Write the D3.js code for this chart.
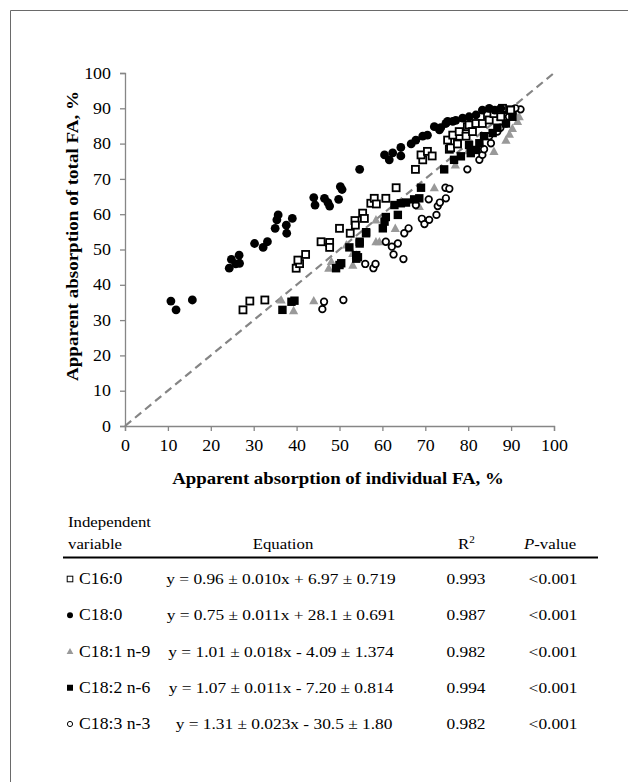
<!DOCTYPE html>
<html><head><meta charset="utf-8">
<script src="https://cdn.jsdelivr.net/npm/d3@7"></script>
<style>body{margin:0;background:#fff}svg{display:block}svg text{font-family:"Liberation Serif","Tinos","DejaVu Serif",serif}</style>
</head><body><svg id="c" width="628" height="782"></svg>
<script>
const xTicks=[0,10,20,30,40,50,60,70,80,90,100];
const yTicks=[0,10,20,30,40,50,60,70,80,90,100];
const xTitle="Apparent absorption of individual FA, %";
const yTitle="Apparent absorption of total FA, %";
const seriesNames=["C16:0","C18:0","C18:1 n-9","C18:2 n-6","C18:3 n-3"];
const equations=["y = 0.96 \u00b1 0.010x + 6.97 \u00b1 0.719","y = 0.75 \u00b1 0.011x + 28.1 \u00b1 0.691","y = 1.01 \u00b1 0.018x - 4.09 \u00b1 1.374","y = 1.07 \u00b1 0.011x - 7.20 \u00b1 0.814","y = 1.31 \u00b1 0.023x - 30.5 \u00b1 1.80"];
const r2Values=["0.993","0.987","0.982","0.994","0.982"];
const pValues=["<0.001","<0.001","<0.001","<0.001","<0.001"];
const c160=[[27.5,32.9],[29.1,35.4],[32.6,35.7],[39.9,44.7],[40.7,46.0],[40.3,47.0],[42.1,48.6],[45.7,52.2],[47.7,52.0],[47.7,50.6],[50.0,56.0],[52.5,54.6],[53.6,58.2],[53.7,56.9],[55.4,60.3],[55.8,58.8],[57.3,63.1],[58.1,64.5],[58.6,62.9],[60.8,64.5],[63.2,67.5],[67.7,72.7],[69.4,75.4],[69.0,76.8],[70.5,77.8],[71.6,76.5],[75.2,81.0],[75.6,78.4],[75.9,78.8],[76.4,82.4],[77.5,80.1],[77.9,83.4],[79.5,82.1],[79.8,84.8],[77.5,79.9],[80.2,85.3],[81.0,83.4],[81.8,85.7],[83.3,85.7],[84.5,88.1],[84.9,86.7],[86.0,88.5],[87.6,87.6],[89.9,89.5],[88.0,90.0]];
const c180=[[10.7,35.4],[11.9,32.9],[15.7,35.7],[24.3,44.7],[24.8,47.2],[25.8,45.9],[26.6,48.4],[26.7,46.1],[30.2,51.7],[32.2,50.6],[33.2,52.2],[35.0,56.0],[35.4,58.4],[35.7,59.8],[37.6,56.9],[37.7,54.6],[39.0,58.8],[44.0,64.7],[44.3,62.6],[46.5,64.5],[47.3,63.3],[47.7,62.3],[49.8,64.2],[50.2,67.8],[50.6,67.0],[54.7,72.7],[60.5,76.8],[61.6,75.4],[62.4,77.4],[64.3,78.9],[64.3,76.5],[66.7,79.9],[67.8,81.0],[69.4,82.1],[70.5,82.4],[72.1,84.8],[73.6,84.5],[73.3,83.9],[74.8,85.7],[75.2,86.3],[76.4,86.3],[77.1,86.6],[78.7,87.2],[80.2,87.6],[81.8,88.1],[83.3,89.5],[84.9,90.0],[86.2,89.5],[87.6,90.0]];
const c181=[[36.4,35.7],[39.3,32.7],[44.0,35.5],[47.5,44.7],[48.1,46.6],[51.6,51.3],[53.1,45.6],[53.1,48.9],[53.9,48.4],[58.5,52.2],[58.5,58.4],[59.3,52.2],[63.0,56.0],[68.6,62.2],[72.1,67.5],[77.0,74.0],[80.0,78.0],[83.0,80.0],[86.0,77.8],[88.8,81.0],[89.6,82.7],[90.3,84.3],[91.5,86.3],[91.9,87.6],[90.8,88.6]];
const c182=[[36.7,32.9],[38.8,35.2],[39.5,35.5],[49.2,44.7],[50.0,45.6],[50.4,46.1],[52.3,50.6],[53.9,48.4],[53.9,47.4],[54.3,47.8],[54.7,51.7],[54.7,52.2],[56.2,54.6],[56.2,54.9],[60.1,56.0],[60.5,57.9],[60.8,59.2],[62.8,62.6],[63.6,59.8],[64.3,63.1],[65.5,63.3],[67.4,64.2],[68.6,64.5],[69.0,67.5],[74.4,72.7],[76.7,75.4],[78.3,76.4],[80.6,77.3],[81.8,78.2],[80.2,79.6],[82.6,80.1],[83.7,82.1],[85.7,83.0],[86.8,84.5],[88.8,85.7],[88.4,89.5],[90.3,87.6],[89.5,89.6]];
const c183=[[46.0,33.1],[46.4,35.2],[50.9,35.7],[56.0,45.9],[57.9,44.7],[58.4,45.9],[60.8,52.2],[62.2,50.8],[63.6,51.7],[62.6,48.6],[64.9,47.3],[65.1,54.6],[66.1,56.0],[67.8,62.6],[69.2,58.7],[69.8,57.2],[70.9,58.4],[70.8,64.2],[72.6,59.8],[72.9,62.3],[73.4,63.3],[74.8,64.5],[74.7,67.5],[75.6,67.2],[79.8,72.7],[82.6,75.4],[83.3,76.8],[83.7,78.4],[85.3,80.1],[84.9,82.1],[86.8,83.4],[87.5,84.5],[88.8,85.7],[89.5,87.6],[90.3,88.6],[92.2,89.7],[91.0,90.0]];

const SX=1.12;
const FF='"Liberation Serif","Tinos","DejaVu Serif",serif';
const svg=d3.select("#c");
svg.append("path").attr("d","M10.5,782V10.5H628").attr("fill","none").attr("stroke","#6a6a6a").attr("stroke-width",1);
const x=d3.scaleLinear().domain([0,100]).range([125,554]);
const y=d3.scaleLinear().domain([0,100]).range([426,73]);
const axisCol="#868686";
const gx=svg.append("g").attr("transform","translate(0,426)").call(d3.axisBottom(x).tickValues(xTicks).tickSize(5).tickPadding(9).tickFormat(d3.format("d")));
const gy=svg.append("g").attr("transform","translate(125,0)").call(d3.axisLeft(y).tickValues(yTicks).tickSize(5).tickPadding(7).tickFormat(d3.format("d")));
[gx,gy].forEach(g=>{g.attr("font-family",FF);g.select(".domain").attr("stroke",axisCol).attr("stroke-width",1.3);g.selectAll(".tick line").attr("stroke",axisCol).attr("stroke-width",1.3);g.selectAll("text").attr("font-size",16).attr("fill","#000").attr("transform",`scale(${SX},1)`);});
gy.selectAll(".tick text").attr("x",-14/SX);
svg.append("line").attr("x1",x(0)).attr("y1",y(0)).attr("x2",x(100)).attr("y2",y(100)).attr("stroke","#858585").attr("stroke-width",2.2).attr("stroke-dasharray","8,5");

function drawSeries(data,type){
  const g=svg.append("g");
  data.forEach(d=>{
    const px=x(d[0]),py=y(d[1]);
    if(type==="osq") g.append("rect").attr("x",px-3.5).attr("y",py-3.5).attr("width",7).attr("height",7).attr("fill","#fff").attr("stroke","#000").attr("stroke-width",1.8);
    else if(type==="fsq") g.append("rect").attr("x",px-4.2).attr("y",py-4.2).attr("width",8.4).attr("height",8.4).attr("fill","#000");
    else if(type==="fci") g.append("circle").attr("cx",px).attr("cy",py).attr("r",4.4).attr("fill","#000");
    else if(type==="oci") g.append("circle").attr("cx",px).attr("cy",py).attr("r",3.3).attr("fill","#fff").attr("stroke","#000").attr("stroke-width",1.7);
    else if(type==="tri") g.append("path").attr("d",`M${px},${py-4.8}L${px+4.6},${py+3.6}L${px-4.6},${py+3.6}Z`).attr("fill","#999");
  });
}
drawSeries(c181,"tri");
drawSeries(c183,"oci");
drawSeries(c182,"fsq");
drawSeries(c160,"osq");
drawSeries(c180,"fci");

function txt(px,py,s,o){
  o=o||{};
  const t=svg.append("text").attr("transform",`translate(${px},${py})${o.rot?" rotate(-90)":""} scale(${SX},1)`)
    .attr("font-size",o.fs||15).attr("font-family",FF).attr("text-anchor",o.anchor||"start");
  if(o.bold) t.attr("font-weight","bold");
  if(s!==null) t.text(s);
  return t;
}
txt(338,484,xTitle,{fs:16.8,bold:true,anchor:"middle"});
txt(78,236,yTitle,{fs:17,bold:true,anchor:"middle",rot:true});

const tfs=15;
txt(68,527,"Independent",{fs:tfs});
txt(68,549,"variable",{fs:tfs});
txt(283,549,"Equation",{fs:tfs,anchor:"middle"});
const rt=txt(458,549,null,{fs:tfs});
rt.append("tspan").text("R");
rt.append("tspan").attr("dy",-6).attr("font-size",10).text("2");
const pt=txt(524,549,null,{fs:tfs});
pt.append("tspan").attr("font-style","italic").text("P");
pt.append("tspan").text("-value");
svg.append("line").attr("x1",63).attr("x2",598).attr("y1",557.5).attr("y2",557.5).attr("stroke","#000").attr("stroke-width",2);
const rowY=d3.scaleLinear().domain([0,4]).range([584,729]);
const mtypes=["osq","fci","tri","fsq","oci"];
const rfs=15.8;
seriesNames.forEach((n,i)=>{
  const yy=rowY(i), my=yy-5, mx=70;
  const t=mtypes[i];
  if(t==="osq") svg.append("rect").attr("x",mx-2.8).attr("y",my-2.8).attr("width",5.6).attr("height",5.6).attr("fill","#fff").attr("stroke","#000").attr("stroke-width",1);
  if(t==="fci") svg.append("circle").attr("cx",mx).attr("cy",my).attr("r",3).attr("fill","#000");
  if(t==="tri") svg.append("path").attr("d",`M${mx},${my-3.6}L${mx+3.4},${my+2.6}L${mx-3.4},${my+2.6}Z`).attr("fill","#999");
  if(t==="fsq") svg.append("rect").attr("x",mx-3).attr("y",my-3).attr("width",6).attr("height",6).attr("fill","#000");
  if(t==="oci") svg.append("circle").attr("cx",mx).attr("cy",my).attr("r",2.6).attr("fill","#fff").attr("stroke","#000").attr("stroke-width",1);
  txt(79,yy,n,{fs:rfs});
  txt(i===4?284:281,yy,equations[i],{fs:15.5,anchor:"middle"});
  txt(466,yy,r2Values[i],{fs:15.5,anchor:"middle"});
  txt(553,yy,pValues[i],{fs:15.5,anchor:"middle"});
});
</script></body></html>
